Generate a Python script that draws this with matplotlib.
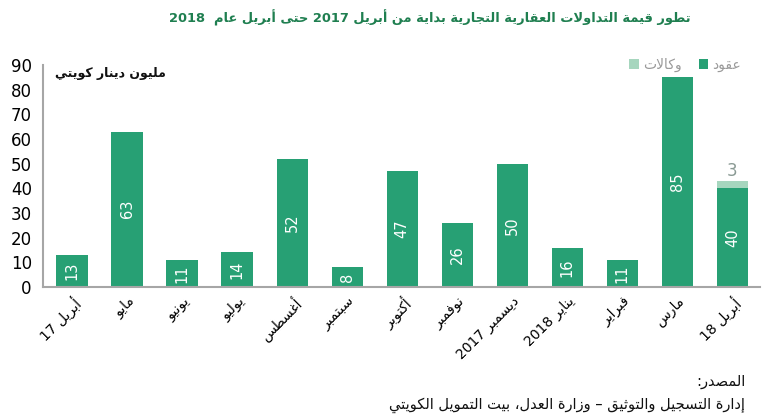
import re
import matplotlib
matplotlib.use("Agg")
import matplotlib.pyplot as plt
import numpy as np

# ---------------- data ----------------
months = ["أبريل 17", "مايو", "يونيو", "يوليو", "أغسطس", "سبتمبر", "أكتوبر",
          "نوفمبر", "ديسمبر 2017", "يناير 2018", "فبراير", "مارس", "أبريل 18"]
contracts = [13, 63, 11, 14, 52, 8, 47, 26, 50, 16, 11, 85, 40]
agencies = [0, 0, 0, 0, 0, 0, 0, 0, 0, 0, 0, 0, 3]
series_names = ["عقود", "وكالات"]
title = "تطور قيمة التداولات العقارية التجارية بداية من أبريل 2017 حتى أبريل عام  2018"
unit_label = "مليون دينار كويتي"
source_head = "المصدر:"
source_body = "إدارة التسجيل والتوثيق – وزارة العدل، بيت التمويل الكويتي"
yticks = [0, 10, 20, 30, 40, 50, 60, 70, 80, 90]

# ---------------- minimal Arabic shaping + RTL reordering ----------------
_AR = {
    0x0621: (0xFE80, 'U'), 0x0622: (0xFE81, 'R'), 0x0623: (0xFE83, 'R'), 0x0624: (0xFE85, 'R'),
    0x0625: (0xFE87, 'R'), 0x0626: (0xFE89, 'D'), 0x0627: (0xFE8D, 'R'), 0x0628: (0xFE8F, 'D'),
    0x0629: (0xFE93, 'R'), 0x062A: (0xFE95, 'D'), 0x062B: (0xFE99, 'D'), 0x062C: (0xFE9D, 'D'),
    0x062D: (0xFEA1, 'D'), 0x062E: (0xFEA5, 'D'), 0x062F: (0xFEA9, 'R'), 0x0630: (0xFEAB, 'R'),
    0x0631: (0xFEAD, 'R'), 0x0632: (0xFEAF, 'R'), 0x0633: (0xFEB1, 'D'), 0x0634: (0xFEB5, 'D'),
    0x0635: (0xFEB9, 'D'), 0x0636: (0xFEBD, 'D'), 0x0637: (0xFEC1, 'D'), 0x0638: (0xFEC5, 'D'),
    0x0639: (0xFEC9, 'D'), 0x063A: (0xFECD, 'D'), 0x0641: (0xFED1, 'D'), 0x0642: (0xFED5, 'D'),
    0x0643: (0xFED9, 'D'), 0x0644: (0xFEDD, 'D'), 0x0645: (0xFEE1, 'D'), 0x0646: (0xFEE5, 'D'),
    0x0647: (0xFEE9, 'D'), 0x0648: (0xFEED, 'R'), 0x0649: (0xFEEF, 'R'), 0x064A: (0xFEF1, 'D'),
}
_LAM_ALEF = {0x0622: 0xFEF5, 0x0623: 0xFEF7, 0x0625: 0xFEF9, 0x0627: 0xFEFB}


def _shape(s):
    items = []
    i = 0
    while i < len(s):
        c = ord(s[i])
        if c == 0x0644 and i + 1 < len(s) and ord(s[i + 1]) in _LAM_ALEF:
            items.append((_LAM_ALEF[ord(s[i + 1])], 'R'))
            i += 2
            continue
        if c in _AR:
            items.append(_AR[c])
        else:
            items.append((s[i], None))
        i += 1
    out = []
    for k, (b, t) in enumerate(items):
        if t is None:
            out.append(b)
            continue
        prev_t = items[k - 1][1] if k > 0 else None
        next_t = items[k + 1][1] if k + 1 < len(items) else None
        jp = prev_t == 'D' and t in ('D', 'R')
        jn = t == 'D' and next_t in ('D', 'R')
        if t == 'U':
            off = 0
        elif jp and jn:
            off = 3
        elif jp:
            off = 1
        elif jn:
            off = 2
        else:
            off = 0
        out.append(chr(b + off))
    return "".join(out)


def ar(s):
    shaped = _shape(s)
    tokens = re.findall(r"[0-9A-Za-z.]+|[^0-9A-Za-z.]+", shaped)
    vis = []
    for tk in reversed(tokens):
        if re.match(r"[0-9A-Za-z.]", tk):
            vis.append(tk)
        else:
            vis.append(tk[::-1])
    return "".join(vis)


# ---------------- plot ----------------
plt.rcParams['font.family'] = ['DejaVu Sans']
dark = "#27a074"
light = "#a6d6be"

fig = plt.figure(figsize=(7.7, 4.19), dpi=100)
ax = fig.add_axes([0.0558, 0.315, 0.931, 0.530])

x = np.arange(len(months))
w = 0.57
b1 = ax.bar(x, contracts, width=w, color=dark, label=ar(series_names[0]), zorder=2)
b2 = ax.bar(x, agencies, width=w, bottom=contracts, color=light, label=ar(series_names[1]), zorder=2)

for xi, v in zip(x, contracts):
    ax.text(xi, v / 2, str(v), rotation=90, ha='center', va='center',
            color='white', fontsize=10.5)
for xi, v, base in zip(x, agencies, contracts):
    if v > 0:
        ax.text(xi, base + v + 0.3, str(v), ha='center', va='bottom',
                color='#8a9a94', fontsize=12)

ax.set_xlim(-0.53, 12.5)
ax.set_ylim(0, 90)
ax.set_yticks(yticks)
ax.tick_params(axis='y', length=0, labelsize=12, pad=8)
ax.tick_params(axis='x', length=0, pad=5)
ax.set_xticks(x)
ax.set_xticklabels([ar(m) for m in months], rotation=45, ha='right',
                   rotation_mode='anchor', fontsize=10)
for sp in ['top', 'right']:
    ax.spines[sp].set_visible(False)
for sp in ['left', 'bottom']:
    ax.spines[sp].set_color('#a6a6a6')
    ax.spines[sp].set_linewidth(1.5)

ax.text(0.017, 0.96, ar(unit_label), transform=ax.transAxes, ha='left', va='center',
        fontsize=9, fontweight='bold', color='#111111')

handles = [b2, b1]
labels = [ar(series_names[1]), ar(series_names[0])]
leg = fig.legend(handles, labels, loc='center', bbox_to_anchor=(0.89, 0.845), ncol=2,
                 frameon=False, fontsize=10, handlelength=0.7, handleheight=0.7,
                 handletextpad=0.3, columnspacing=1.2)
for t in leg.get_texts():
    t.set_color('#9a9a9a')

fig.text(0.558, 0.957, ar(title), ha='center', va='center', fontsize=9.4,
         fontweight='bold', color='#1f7f50')
fig.text(0.968, 0.09, ar(source_head), ha='right', va='center', fontsize=10.5,
         color='#111111')
fig.text(0.968, 0.033, ar(source_body), ha='right', va='center', fontsize=10.5,
         color='#111111')

fig.savefig("out.png", dpi=100)
